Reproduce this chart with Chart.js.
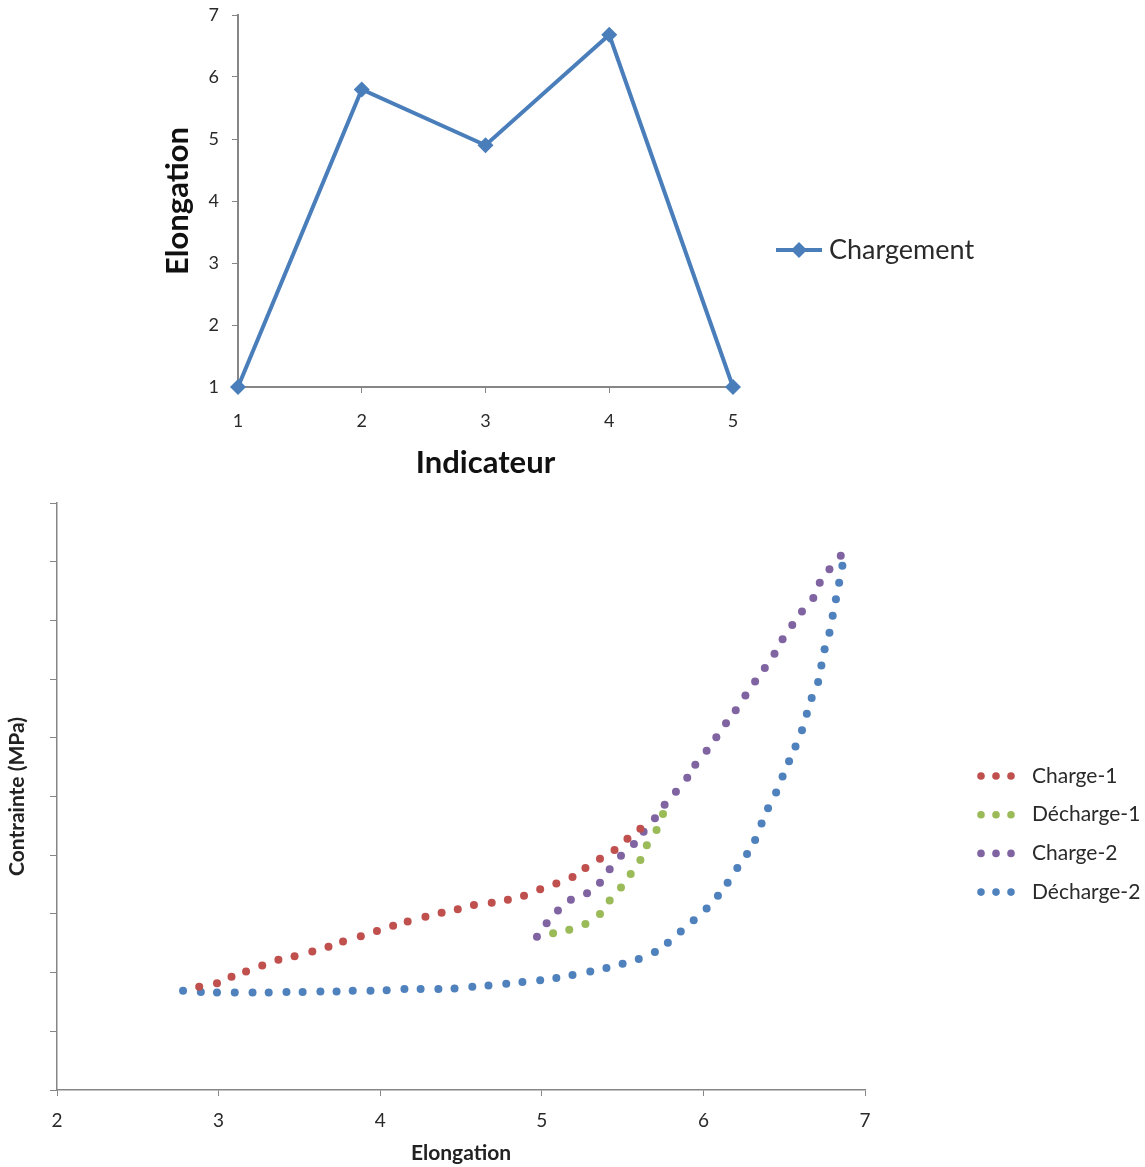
<!DOCTYPE html>
<html>
<head>
<meta charset="utf-8">
<script src="https://cdn.jsdelivr.net/npm/chart.js@4.4.1/dist/chart.umd.min.js"></script>
<style>
  html, body { margin: 0; padding: 0; background: #fff; }
  #top { position: absolute; left: 0; top: 0; width: 1145px; height: 490px; }
  #bottom { position: absolute; left: 0; top: 490px; width: 1145px; height: 677px; }
</style>
</head>
<body>
<div id="top"><canvas id="lineChart" role="img" aria-label="Elongation par indicateur"></canvas></div>
<div id="bottom"><canvas id="cycleChart" role="img" aria-label="Contrainte vs elongation"></canvas></div>
<script>
// top chart
const indicateurs = ['1', '2', '3', '4', '5'];
const chargement = [1, 5.8, 4.9, 6.68, 1];
const topYTicks = [1, 2, 3, 4, 5, 6, 7];

// bottom chart (stress axis has no numbers in the source, 10 equal steps)
const elongTicks = [2, 3, 4, 5, 6, 7];
const charge1X = [2.88, 2.99, 3.08, 3.17, 3.27, 3.37, 3.47, 3.58, 3.68, 3.77, 3.88, 3.98, 4.08, 4.17, 4.28,
  4.38, 4.48, 4.58, 4.69, 4.79, 4.89, 4.99, 5.09, 5.19, 5.27, 5.36, 5.45, 5.53, 5.61];
const charge1Y = [1.76, 1.82, 1.93, 2.02, 2.12, 2.22, 2.28, 2.36, 2.44, 2.53, 2.62, 2.71, 2.80, 2.87, 2.95,
  3.02, 3.08, 3.15, 3.19, 3.24, 3.31, 3.42, 3.52, 3.63, 3.78, 3.94, 4.09, 4.28, 4.45];
const decharge1X = [5.75, 5.71, 5.65, 5.61, 5.55, 5.49, 5.42, 5.36, 5.27, 5.17, 5.07];
const decharge1Y = [4.70, 4.43, 4.17, 3.92, 3.68, 3.45, 3.23, 3.00, 2.83, 2.73, 2.67];
const charge2X = [4.97, 5.03, 5.10, 5.18, 5.28, 5.36, 5.42, 5.49, 5.57, 5.63, 5.70, 5.76, 5.83, 5.90, 5.95,
  6.02, 6.08, 6.14, 6.20, 6.26, 6.32, 6.38, 6.44, 6.49, 6.55, 6.61, 6.68, 6.72, 6.78, 6.85];
const charge2Y = [2.61, 2.84, 3.06, 3.24, 3.35, 3.53, 3.76, 3.99, 4.19, 4.40, 4.63, 4.86, 5.08, 5.32, 5.54,
  5.78, 6.01, 6.25, 6.47, 6.72, 6.96, 7.19, 7.43, 7.68, 7.92, 8.15, 8.38, 8.64, 8.87, 9.10];
const decharge2X = [2.78, 2.89, 2.99, 3.10, 3.21, 3.31, 3.42, 3.52, 3.63, 3.73, 3.83, 3.94, 4.04, 4.15, 4.25,
  4.36, 4.46, 4.57, 4.67, 4.78, 4.88, 4.99, 5.09, 5.19, 5.30, 5.40, 5.50, 5.60, 5.70, 5.78,
  5.86, 5.94, 6.02, 6.09, 6.15, 6.21, 6.27, 6.32, 6.36, 6.40, 6.45, 6.49, 6.53, 6.57, 6.61,
  6.64, 6.67, 6.71, 6.73, 6.75, 6.78, 6.80, 6.82, 6.84, 6.86];
const decharge2Y = [1.69, 1.67, 1.66, 1.66, 1.66, 1.66, 1.67, 1.67, 1.68, 1.68, 1.69, 1.69, 1.70, 1.72, 1.72,
  1.72, 1.73, 1.76, 1.78, 1.81, 1.84, 1.87, 1.91, 1.96, 2.02, 2.08, 2.15, 2.23, 2.35, 2.51,
  2.70, 2.89, 3.09, 3.31, 3.53, 3.78, 4.02, 4.26, 4.54, 4.80, 5.07, 5.34, 5.60, 5.85, 6.13,
  6.41, 6.68, 6.95, 7.23, 7.51, 7.79, 8.08, 8.36, 8.64, 8.93];

const FONT = "Lato, 'Open Sans', sans-serif";
const AXIS = '#868686';
const TXT = '#2a2a2a';

const pts = (xs, ys) => xs.map((x, i) => ({ x, y: ys[i] }));

// legend drawn by hand so it sits where Excel put it
const sideLegend = {
  id: 'sideLegend',
  afterDraw(chart, args, o) {
    const ctx = chart.ctx;
    ctx.save();
    chart.data.datasets.forEach((ds, i) => {
      const y = o.y + i * (o.gap || 0);
      const col = ds.borderColor || ds.backgroundColor;
      if (o.kind === 'line') {
        ctx.strokeStyle = col;
        ctx.lineWidth = 4;
        ctx.beginPath();
        ctx.moveTo(o.markX - 23, y);
        ctx.lineTo(o.markX + 23, y);
        ctx.stroke();
        ctx.fillStyle = col;
        ctx.beginPath();
        ctx.moveTo(o.markX, y - 8);
        ctx.lineTo(o.markX + 8, y);
        ctx.lineTo(o.markX, y + 8);
        ctx.lineTo(o.markX - 8, y);
        ctx.closePath();
        ctx.fill();
      } else {
        ctx.fillStyle = ds.backgroundColor;
        [-15, 0, 15].forEach((dx) => {
          ctx.beginPath();
          ctx.arc(o.markX + dx, y, 3.8, 0, Math.PI * 2);
          ctx.fill();
        });
      }
      ctx.fillStyle = TXT;
      ctx.font = o.font;
      ctx.textAlign = 'left';
      ctx.textBaseline = 'middle';
      ctx.fillText(ds.label, o.textX, y);
    });
    ctx.restore();
  },
};

new Chart(document.getElementById('lineChart'), {
  type: 'line',
  data: {
    labels: indicateurs,
    datasets: [{
      label: 'Chargement',
      data: chargement,
      borderColor: '#4a7ebb',
      backgroundColor: '#4a7ebb',
      borderWidth: 4,
      tension: 0,
      clip: false,
      pointStyle: 'rectRot',
      pointRadius: 8,
      pointBorderWidth: 0,
    }],
  },
  options: {
    responsive: true,
    maintainAspectRatio: false,
    animation: false,
    layout: { padding: { left: 155, right: 412, top: 15, bottom: 4 } },
    plugins: {
      legend: { display: false },
      tooltip: { enabled: false },
      sideLegend: { kind: 'line', markX: 799, textX: 829, y: 250, font: `27px ${FONT}` },
    },
    scales: {
      x: {
        offset: false,
        afterFit: (s) => { s.height = 99; },
        grid: { drawOnChartArea: false, drawTicks: true, tickLength: 6, color: AXIS },
        border: { color: AXIS, width: 2 },
        ticks: { color: TXT, font: { family: FONT, size: 18 }, padding: 17 },
        title: { display: true, text: 'Indicateur', color: '#111', font: { family: FONT, size: 31, weight: 'bold' }, padding: { top: 4, bottom: 4 } },
      },
      y: {
        min: topYTicks[0],
        max: topYTicks[topYTicks.length - 1],
        afterFit: (s) => { s.width = 83; s.paddingTop = 0; s.paddingBottom = 0; },
        afterBuildTicks: (s) => { s.ticks = topYTicks.map((v) => ({ value: v })); },
        grid: { drawOnChartArea: false, drawTicks: true, tickLength: 6, color: AXIS },
        border: { color: AXIS, width: 2 },
        ticks: { color: TXT, font: { family: FONT, size: 18 }, padding: 13 },
        title: { display: true, text: 'Elongation', color: '#111', font: { family: FONT, size: 31, weight: 'bold' }, padding: { top: 4, bottom: 4 } },
      },
    },
  },
  plugins: [sideLegend],
});

new Chart(document.getElementById('cycleChart'), {
  type: 'scatter',
  data: {
    datasets: [
      { label: 'Charge-1', data: pts(charge1X, charge1Y), backgroundColor: '#c0504d' },
      { label: 'Décharge-1', data: pts(decharge1X, decharge1Y), backgroundColor: '#9bbb59' },
      { label: 'Charge-2', data: pts(charge2X, charge2Y), backgroundColor: '#8064a2' },
      { label: 'Décharge-2', data: pts(decharge2X, decharge2Y), backgroundColor: '#4f81bd' },
    ].map((d) => ({ ...d, pointRadius: 4, pointBorderWidth: 0, showLine: false, clip: false })),
  },
  options: {
    responsive: true,
    maintainAspectRatio: false,
    animation: false,
    layout: { padding: { left: 1, right: 280, top: 13, bottom: 0 } },
    plugins: {
      legend: { display: false },
      tooltip: { enabled: false },
      sideLegend: { kind: 'dots', markX: 996, textX: 1032, y: 286, gap: 38.7, font: `21px ${FONT}` },
    },
    scales: {
      x: {
        type: 'linear',
        min: elongTicks[0],
        max: elongTicks[elongTicks.length - 1],
        afterFit: (s) => { s.height = 77; },
        afterBuildTicks: (s) => { s.ticks = elongTicks.map((v) => ({ value: v })); },
        grid: { drawOnChartArea: false, drawTicks: true, tickLength: 6, color: AXIS },
        border: { color: AXIS, width: 1.5 },
        ticks: { color: TXT, font: { family: FONT, size: 19 }, padding: 13 },
        title: { display: true, text: 'Elongation', color: '#222', font: { family: FONT, size: 21, weight: 'bold' }, padding: { top: 4, bottom: 1 } },
      },
      y: {
        min: 0,
        max: 10,
        afterFit: (s) => { s.width = 56; },
        ticks: { display: false, stepSize: 1 },
        grid: { drawOnChartArea: false, drawTicks: true, tickLength: 7, color: AXIS },
        border: { color: AXIS, width: 1.5 },
        title: { display: true, text: 'Contrainte (MPa)', color: '#222', font: { family: FONT, size: 21, weight: 'bold' }, padding: { top: 4, bottom: 4 } },
      },
    },
  },
  plugins: [sideLegend],
});
</script>
</body>
</html>
